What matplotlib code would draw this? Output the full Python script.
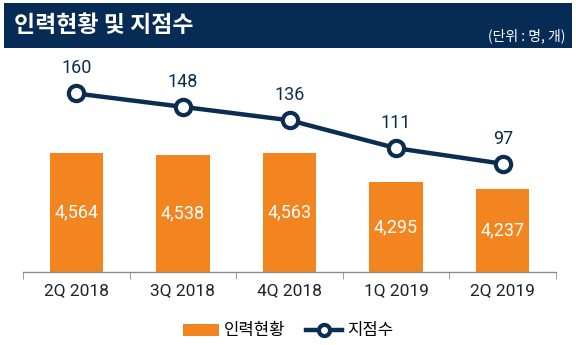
import matplotlib.pyplot as plt
from matplotlib.patches import Rectangle, Patch
from matplotlib.lines import Line2D
import numpy as np

plt.rcParams['font.family'] = ['Noto Sans CJK KR', 'DejaVu Sans']

quarters = ['2Q 2018', '3Q 2018', '4Q 2018', '1Q 2019', '2Q 2019']
staff = [4564, 4538, 4563, 4295, 4237]
branches = [160, 148, 136, 111, 97]

orange = '#F2851F'
navy = '#0B2D52'
num_font = ['Roboto', 'DejaVu Sans']

fig = plt.figure(figsize=(5.76, 3.45), dpi=100)

# title bar
fig.patches.append(Rectangle((4 / 576, 1 - 48 / 345), 568 / 576, 45 / 345,
                             transform=fig.transFigure, facecolor='#062C56',
                             edgecolor='none', zorder=0))
fig.text(14 / 576, 1 - 26 / 345, '인력현황 및 지점수', color='white',
         fontsize=16.5, fontweight='bold', va='center', ha='left')
fig.text(565 / 576, 1 - 36 / 345, '(단위 : 명, 개)', color='white',
         fontsize=10, va='center', ha='right')

ax = fig.add_axes([23 / 576, 1 - 272 / 345, 533 / 576, 212 / 345])
x = np.arange(len(quarters))

bars = ax.bar(x, staff, width=0.5, color=orange, zorder=2)
for xi, v in zip(x, staff):
    ax.text(xi, (v + 3480) / 2, f'{v:,}', color='white', fontsize=13,
            family=num_font, ha='center', va='center', zorder=3)
ax.set_ylim(3480, 5405)
ax.set_xlim(-0.5, 4.5)

for s in ['top', 'right', 'left']:
    ax.spines[s].set_visible(False)
ax.spines['bottom'].set_color('#8C8C8C')
ax.spines['bottom'].set_linewidth(1.0)
ax.set_yticks([])
ax.set_xticks(x)
ax.set_xticklabels(quarters, fontsize=12.5, color='#222222', family=num_font)
ax.tick_params(axis='x', which='major', length=0, pad=8)
ax.set_xticks(np.arange(-0.5, 5, 1), minor=True)
ax.tick_params(axis='x', which='minor', length=5, color='#8C8C8C', direction='out')

ax2 = ax.twinx()
ax2.plot(x, branches, color=navy, linewidth=3.2, marker='o', markersize=11,
         markerfacecolor='white', markeredgecolor=navy, markeredgewidth=3,
         zorder=4)
for xi, v in zip(x, branches):
    ax2.annotate(str(v), (xi, v), xytext=(0, 18), textcoords='offset points',
                 ha='center', va='center', fontsize=13, color=navy,
                 family=num_font)
ax2.set_ylim(0, 190)
ax2.set_yticks([])
for s in ['top', 'right', 'left', 'bottom']:
    ax2.spines[s].set_visible(False)

handles = [Patch(facecolor=orange, edgecolor='none'),
           Line2D([], [], color=navy, linewidth=3.2, marker='o', markersize=8,
                  markerfacecolor='white', markeredgecolor=navy,
                  markeredgewidth=3)]
fig.legend(handles, ['인력현황', '지점수'], loc='center',
           bbox_to_anchor=(0.5, 1 - 331 / 345), ncol=2, frameon=False,
           prop={'size': 12}, handlelength=2.2,
           handletextpad=0.3, columnspacing=1.2)

fig.savefig('out.png', dpi=100)
